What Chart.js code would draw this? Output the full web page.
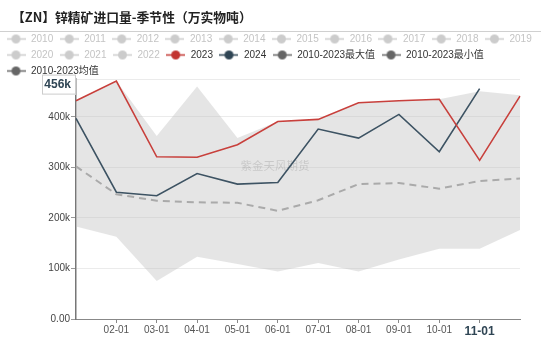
<!DOCTYPE html>
<html>
<head>
<meta charset="utf-8">
<script src="https://cdn.jsdelivr.net/npm/chart.js@4.4.1/dist/chart.umd.min.js"></script>
<style>
  body { margin: 0; background: #fff; }
  #wrap { width: 550px; height: 339px; }
</style>
</head>
<body>
<div id="wrap"><canvas id="seasonChart" width="550" height="339"></canvas></div>
<script>
// categories and series (tonnes)
var categories = ['01-01', '02-01', '03-01', '04-01', '05-01', '06-01', '07-01', '08-01', '09-01', '10-01', '11-01', '12-01'];
var legendYears = ['2010', '2011', '2012', '2013', '2014', '2015', '2016', '2017', '2018', '2019', '2020', '2021', '2022'];
var y2023 = [432000, 471000, 321000, 320000, 345000, 391000, 395000, 428000, 432000, 435000, 314000, 441000];
var y2024 = [397000, 251000, 244000, 288000, 267000, 270000, 376000, 358000, 405000, 331000, 456000, null];
var maxVals = [432000, 471000, 362000, 460000, 358000, 391000, 395000, 428000, 432000, 435000, 451000, 443000];
var minVals = [183000, 163000, 75000, 123000, 109000, 94000, 111000, 94000, 118000, 139000, 139000, 176000];
var avgVals = [302000, 247000, 234000, 231000, 230000, 214000, 235000, 267000, 269000, 258000, 273000, 278000];
var yTicks = [0, 100000, 200000, 300000, 400000];

var titleText = '【ZN】锌精矿进口量-季节性（万实物吨）';
var watermark = '紫金天风期货';

Chart.defaults.font.family = '"Liberation Sans", "Noto Sans CJK SC", sans-serif';
Chart.defaults.color = '#444';

function marker(color) {
    var c = document.createElement('canvas');
    c.width = 19;
    c.height = 11;
    var g = c.getContext('2d');
    g.strokeStyle = color;
    g.lineWidth = 1.5;
    g.beginPath();
    g.moveTo(0, 5.5);
    g.lineTo(19, 5.5);
    g.stroke();
    g.fillStyle = color;
    g.beginPath();
    g.arc(9.5, 5.5, 4.5, 0, Math.PI * 2);
    g.fill();
    return c;
}

var extras = {
    id: 'extras',
    beforeLayout: function (chart) {
        // legend is a bit taller than the original, trim it
        if (!chart.legend._trimmed) {
            var fit = chart.legend.fit;
            chart.legend.fit = function () {
                fit.call(this);
                this.height -= 7;
            };
            chart.legend._trimmed = true;
        }
    },
    beforeDraw: function (chart) {
        var ctx = chart.ctx;
        ctx.save();
        ctx.fillStyle = '#222';
        ctx.font = 'bold 12.8px "Noto Sans CJK SC", sans-serif';
        ctx.textBaseline = 'middle';
        ctx.textAlign = 'left';
        ctx.fillText(titleText, 12, 17);
        ctx.strokeStyle = '#d0d0d0';
        ctx.lineWidth = 1;
        ctx.beginPath();
        ctx.moveTo(0, 31.5);
        ctx.lineTo(541, 31.5);
        ctx.stroke();
        ctx.restore();
    },
    beforeDatasetsDraw: function (chart) {
        var ctx = chart.ctx;
        ctx.save();
        ctx.fillStyle = 'rgba(0,0,0,0.13)';
        ctx.font = '11.5px "Noto Sans CJK SC", sans-serif';
        ctx.textAlign = 'center';
        ctx.textBaseline = 'middle';
        ctx.fillText(watermark, 275, 166);
        ctx.restore();
    },
    afterDraw: function (chart) {
        // axis pointer label at the latest 2024 value
        var y = chart.scales.y;
        var last = y2024[10];
        var py = y.getPixelForValue(last);
        var ctx = chart.ctx;
        ctx.save();
        ctx.fillStyle = '#fff';
        ctx.fillRect(42, py - 14, 34, 20);
        ctx.strokeStyle = '#ccc';
        ctx.lineWidth = 1;
        ctx.strokeRect(42.5, py - 13.5, 33, 19);
        ctx.fillStyle = '#2f4554';
        ctx.font = 'bold 12px "Liberation Sans", sans-serif';
        ctx.textAlign = 'right';
        ctx.textBaseline = 'middle';
        ctx.fillText(Math.round(last / 1000) + 'k', 71, py - 4);
        ctx.restore();
    }
};

var ctx = document.getElementById('seasonChart').getContext('2d');
var myChart = new Chart(ctx, {
    type: 'line',
    data: {
        labels: categories,
        datasets: [{
            label: '2023',
            data: y2023,
            borderColor: '#c8403c',
            legendColor: '#c23531',
            borderWidth: 1.6,
            pointRadius: 0,
            fill: false
        }, {
            label: '2024',
            data: y2024,
            borderColor: '#3d5363',
            legendColor: '#2f4554',
            borderWidth: 1.6,
            pointRadius: 0,
            fill: false
        }, {
            label: '2010-2023最大值',
            data: maxVals,
            borderWidth: 0,
            borderColor: 'rgba(0,0,0,0)',
            legendColor: '#666',
            backgroundColor: 'rgba(190,190,190,0.4)',
            pointRadius: 0,
            fill: '+1'
        }, {
            label: '2010-2023最小值',
            data: minVals,
            borderWidth: 0,
            borderColor: 'rgba(0,0,0,0)',
            legendColor: '#666',
            pointRadius: 0,
            fill: false
        }, {
            label: '2010-2023均值',
            data: avgVals,
            borderColor: '#aaaaaa',
            legendColor: '#666',
            borderWidth: 2,
            borderDash: [7, 5],
            pointRadius: 0,
            fill: false
        }]
    },
    options: {
        responsive: false,
        animation: false,
        events: [],
        devicePixelRatio: 1,
        layout: { padding: { top: 28 } },
        plugins: {
            filler: { drawTime: 'beforeDatasetsDraw' },
            tooltip: { enabled: false },
            legend: {
                position: 'top',
                align: 'start',
                labels: {
                    usePointStyle: true,
                    pointStyleWidth: 20,
                    boxHeight: 10,
                    padding: 6,
                    font: { size: 10 },
                    generateLabels: function (chart) {
                        var items = legendYears.map(function (yr) {
                            return {
                                text: yr,
                                pointStyle: marker('#cccccc'),
                                fontColor: '#c4c4c4',
                                fillStyle: '#ccc',
                                strokeStyle: '#ccc',
                                lineWidth: 0,
                                hidden: false
                            };
                        });
                        chart.data.datasets.forEach(function (ds, i) {
                            items.push({
                                text: ds.label,
                                pointStyle: marker(ds.legendColor),
                                fontColor: '#333',
                                fillStyle: ds.legendColor,
                                strokeStyle: ds.legendColor,
                                lineWidth: 0,
                                hidden: false,
                                datasetIndex: i
                            });
                        });
                        return items;
                    }
                }
            }
        },
        scales: {
            x: {
                type: 'category',
                offset: false,
                afterFit: function (s) { s.height = 20; },
                border: { color: '#888', width: 1 },
                grid: {
                    drawOnChartArea: false,
                    drawTicks: true,
                    tickLength: 4,
                    tickColor: function (c) {
                        return (c.index === 0 || c.index === categories.length - 1) ? 'rgba(0,0,0,0)' : '#888';
                    }
                },
                ticks: {
                    autoSkip: false,
                    maxRotation: 0,
                    padding: 1,
                    callback: function (val, i) {
                        return (i === 0 || i === categories.length - 1) ? '' : categories[i];
                    },
                    color: function (c) {
                        return c.index === 10 ? '#2f4554' : '#555';
                    },
                    font: function (c) {
                        return c.index === 10 ? { size: 12, weight: 'bold' } : { size: 10 };
                    }
                }
            },
            y: {
                min: 0,
                max: 475000,
                afterFit: function (s) { s.width = 76; },
                afterBuildTicks: function (s) {
                    s.ticks = yTicks.map(function (v) { return { value: v }; }).concat([{ value: 475000 }]);
                },
                border: { color: '#777', width: 1.5 },
                grid: {
                    color: '#ebebeb',
                    tickLength: 5,
                    tickColor: function (c) {
                        return c.tick && c.tick.value % 100000 ? 'rgba(0,0,0,0)' : '#999';
                    }
                },
                ticks: {
                    padding: 1,
                    font: { size: 10 },
                    color: '#444',
                    callback: function (v) {
                        if (v === 0) return '0.00';
                        if (v % 100000) return '';
                        return (v / 1000) + 'k';
                    }
                }
            },
            y2: {
                position: 'right',
                display: true,
                afterFit: function (s) { s.width = 30; },
                border: { display: false },
                grid: { display: false, drawTicks: false },
                ticks: { display: false }
            }
        }
    },
    plugins: [extras]
});
</script>
</body>
</html>
